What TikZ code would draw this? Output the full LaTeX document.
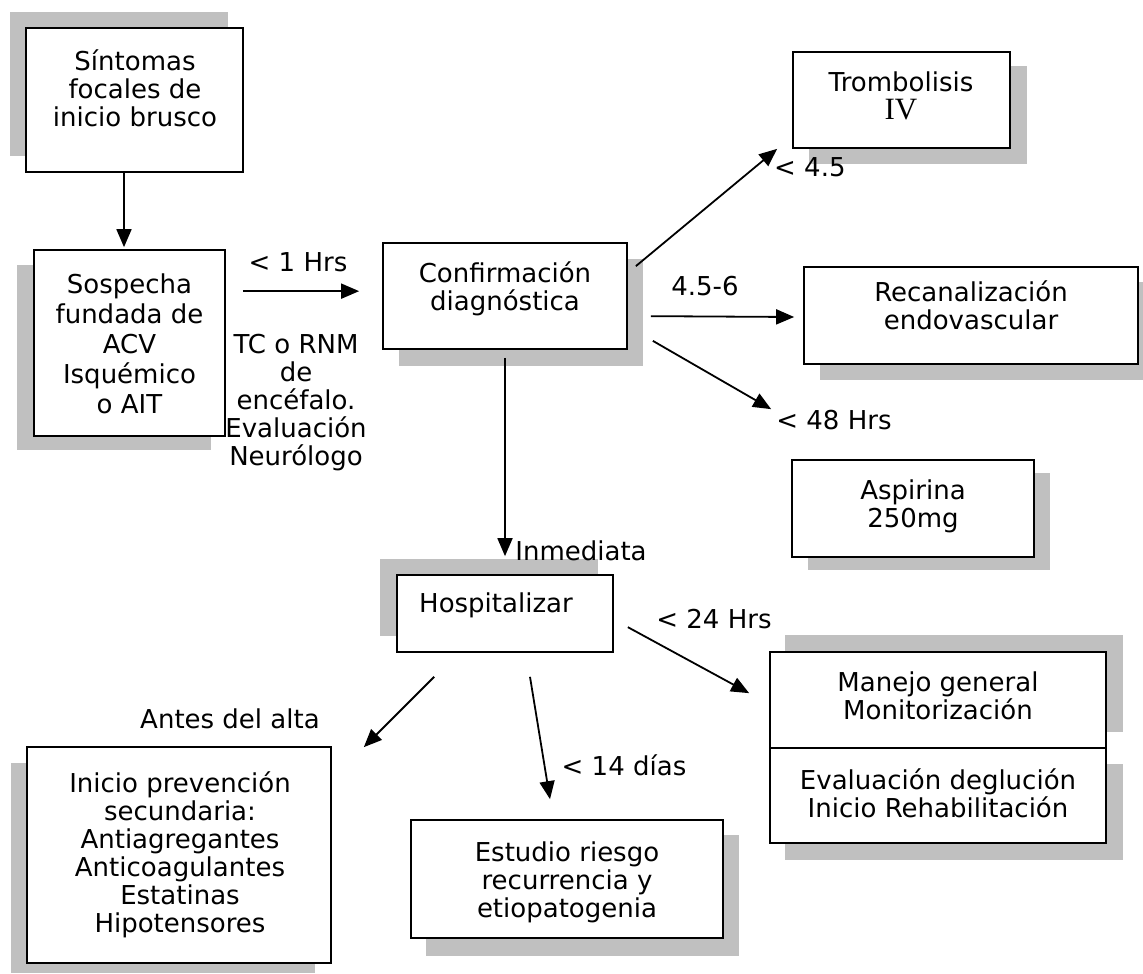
\documentclass[tikz,border=0pt]{standalone}
\usepackage{fontspec}
\setmainfont{DejaVu Sans}
\newfontfamily\serifIV{Liberation Serif}
\usetikzlibrary{arrows.meta,calc}
\definecolor{shadowgray}{RGB}{192,192,192}
\tikzset{
  shade/.style={fill=shadowgray,draw=none},
  box/.style={draw=black,line width=1.7pt,fill=white,inner sep=0pt},
  txt/.style={font=\fontsize{26}{28}\selectfont,align=center,inner sep=0pt},
  arr/.style={line width=1.8pt,-{Triangle[length=18pt,width=15pt]}}
}
\begin{document}
\begin{tikzpicture}[x=1pt,y=-1pt]
\useasboundingbox (0,0) rectangle (1143,974);
\fill[white] (0,0) rectangle (1143,974);

% shadows
\fill[shade] (10,12) rectangle (228,156);
\fill[shade] (17,265) rectangle (211,450);
\fill[shade] (399,259) rectangle (643,366);
\fill[shade] (809,66) rectangle (1027,164);
\fill[shade] (820,282) rectangle (1143,380);
\fill[shade] (808,473) rectangle (1050,570);
\fill[shade] (380,559) rectangle (598,636);
\fill[shade] (785,635) rectangle (1123,732);
\fill[shade] (785,764) rectangle (1123,860);
\fill[shade] (11,763) rectangle (315,973);
\fill[shade] (426,835) rectangle (739,956);

% boxes
\node[box,minimum width=217pt,minimum height=144pt] (sint) at (134.5,100) {};
\node[box,minimum width=191pt,minimum height=186pt] (sosp) at (129.5,343) {};
\node[box,minimum width=244pt,minimum height=106pt] (conf) at (505,296) {};
\node[box,minimum width=217pt,minimum height=96pt] (trom) at (901.5,100) {};
\node[box,minimum width=334pt,minimum height=97pt] (reca) at (971,315.5) {};
\node[box,minimum width=242pt,minimum height=97pt] (aspi) at (913,508.5) {};
\node[box,minimum width=216pt,minimum height=77pt] (hosp) at (505,613.5) {};
\node[box,minimum width=336pt,minimum height=96pt] (mane) at (938,700) {};
\node[box,minimum width=336pt,minimum height=95pt] (eval) at (938,795.5) {};
\node[box,minimum width=304pt,minimum height=216pt] (prev) at (179,855) {};
\node[box,minimum width=312pt,minimum height=118pt] (estu) at (567,879) {};

% box texts
\node[txt] (sintT) at (135,88) {Síntomas\\focales de\\inicio brusco};
\node[txt,font=\fontsize{26}{30}\selectfont] (sospT) at (129.5,344) {Sospecha\\fundada de\\ACV\\Isquémico\\o AIT};
\node[txt] (confT) at (505,289) {Confirmación\\diagnóstica};
\node[txt] (tromT) at (901,96) {Trombolisis\\{\serifIV\fontsize{31}{28}\selectfont IV}};
\node[txt] (recaT) at (971,305) {Recanalización\\endovascular};
\node[txt] (aspiT) at (913,506) {Aspirina\\250mg};
\node[txt,anchor=base west] (hospT) at (419,612) {Hospitalizar};
\node[txt] (maneT) at (938,696) {Manejo general\\Monitorización};
\node[txt] (evalT) at (938,793) {Evaluación deglución\\Inicio Rehabilitación};
\node[txt] (prevT) at (180,855) {Inicio prevención\\secundaria:\\Antiagregantes\\Anticoagulantes\\Estatinas\\Hipotensores};
\node[txt] (estuT) at (567,882) {Estudio riesgo\\recurrencia y\\etiopatogenia};

% connector labels
\node[txt] (l1) at (298,262) {< 1 Hrs};
\node[txt] (ltc) at (296,403) {TC o RNM\\de\\encéfalo.\\Evaluación\\Neurólogo};
\node[txt,anchor=west] (l45) at (774,167) {< 4.5};
\node[txt] (l456) at (705,286) {4.5-6};
\node[txt] (l48) at (834,420) {< 48 Hrs};
\node[txt] (linm) at (581,551) {Inmediata};
\node[txt] (l24) at (714,619) {< 24 Hrs};
\node[txt] (lalta) at (230,719) {Antes del alta};
\node[txt] (l14) at (624,765) {< 14 días};

% connectors
\draw[arr,shorten >=2pt] ([xshift=-10.5pt]sint.south) -- ([xshift=-10.5pt]sint.south |- sosp.north);
\draw[arr] ($(sosp.north east)+(17,42)$) -- ($(conf.north west)+(-23,49)$);
\draw[arr] ($(conf.north east)+(8,24)$) -- ($(trom.south west)+(-15,0)$);
\draw[arr] ($(conf.north east)+(23,74)$) -- ($(reca.west)+(-9,1.5)$);
\draw[arr] ($(conf.south east)+(25,-9)$) -- ($(aspi.north west)+(-20,-50)$);
\draw[arr] ($(conf.south)+(0,8)$) -- ($(hosp.north)+(0,-18)$);
\draw[arr] ($(hosp.north east)+(14,53)$) -- ($(mane.north west)+(-20,42)$);
\draw[arr] ($(hosp.south west)+(38,24)$) -- ($(prev.north east)+(32,1)$);
\draw[arr] ($(hosp.south)+(25,24)$) -- ($(estu.north)+(-17,-20)$);
\end{tikzpicture}
\end{document}
